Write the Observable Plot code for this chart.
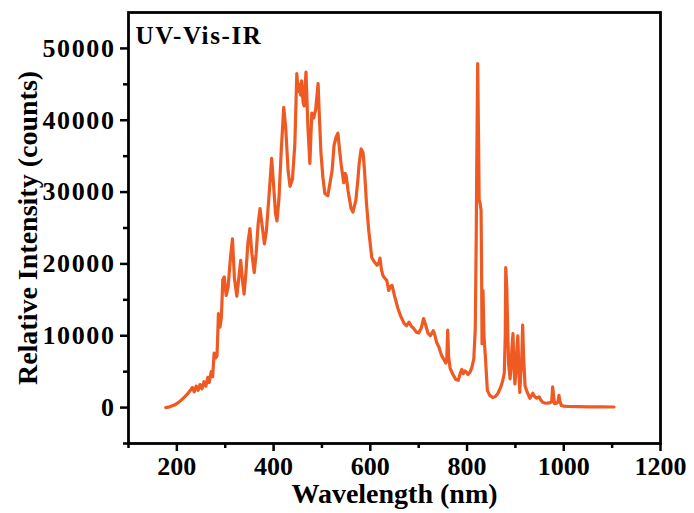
<!DOCTYPE html>
<html>
<head>
<meta charset="utf-8">
<script src="https://cdn.jsdelivr.net/npm/d3@7"></script>
<script src="https://cdn.jsdelivr.net/npm/@observablehq/plot@0.6"></script>
<style>
  html, body { margin: 0; padding: 0; background: #fff; }
  g[aria-label="y-axis tick label"] text { letter-spacing: 1.6px; }
  g.title-text text { letter-spacing: 1.6px; }
</style>
</head>
<body>
<div id="chart"></div>
<script>
const title = "UV-Vis-IR";
const xLabel = "Wavelength (nm)";
const yLabel = "Relative Intensity (counts)";
const xTicks = [200, 400, 600, 800, 1000, 1200];
const xMinorTicks = [100, 300, 500, 700, 900, 1100];
const yTicks = [0, 10000, 20000, 30000, 40000, 50000];
const yMinorTicks = [-5000, 5000, 15000, 25000, 35000, 45000];

const wavelength = [
  177,185,195,205,215,222,228,232,236,240,
  244,248,252,256,260,264,267,271,274,277,
  280,283,286,289,292,295,298,302,306,311,
  315,319,324,328,332,336,339,343,347,351,
  355,360,364,368,372,376,381,385,390,396,
  400,404,407,411,416,421,425,430,434,439,
  444,448,451,453,456,458,461,463,467,471,
  475,479,483,487,492,495,498,502,506,512,
  516,521,525,529,533,537,540,545,548,550,
  554,560,564,570,574,577,581,585,588,592,
  597,603,608,614,618,620,623,626,630,634,
  638,642,645,650,657,663,670,675,680,685,
  690,695,700,705,710,714,719,724,730,733,
  737,742,747,752,756,758,760,762,765,770,
  777,782,786,789,792,795,798,802,806,810,
  814,817,819,820,822,824,825,827,829,830,
  831,833,835,838,842,847,853,858,864,870,
  874,877,879,880,882,884,886,889,891,893,
  895,897,899,901,903,905,907,909,911,913,
  915,917,920,924,930,936,940,944,949,953,
  957,963,970,975,977,979,981,985,988,990,
  992,995,1000,1010,1030,1050,1080,1104
];
const intensity = [
  0,100,350,800,1400,1900,2400,2800,2200,3000,
  2400,3200,2600,3600,3000,4200,3500,5000,4300,7600,
  6900,7200,13100,11200,12500,17800,18200,15600,16800,21000,
  23500,18000,15500,18000,20500,17500,15800,19000,23000,24900,
  21500,18800,21500,25500,27700,25500,22800,24500,29000,34700,
  31000,27000,26000,29000,36000,41800,39000,33000,30800,31800,
  36800,46500,44000,45000,43500,45500,42500,42000,46700,39000,
  34000,41000,40300,41500,45100,40000,35400,32000,29800,29500,
  31000,33000,36500,37600,38200,35500,33700,31300,32600,32300,
  30200,27800,27200,28800,31500,34000,36000,35500,33000,28500,
  24500,20900,20300,19800,20200,20800,19200,18400,18000,17700,
  16300,16900,17000,15600,13800,12700,11700,11400,11900,11300,
  11000,10500,10400,11000,12400,11600,10400,10000,10700,10200,
  9100,8400,7300,6700,6200,6600,10800,7000,5500,4700,
  3900,3800,4800,5300,4700,5100,5000,4600,4900,5600,
  6800,11000,23700,33000,47900,36000,29000,28400,27500,20000,
  8900,16300,10000,7000,2400,1700,1400,1500,2000,2900,
  3800,4800,10000,19500,17000,11000,6000,4000,6000,8500,
  10300,5500,3300,5000,8000,10000,5500,2100,4700,6500,
  11500,7000,3000,2200,1300,2000,1500,1300,1500,1000,
  700,600,650,800,2900,1600,550,600,800,1700,
  900,300,200,150,120,100,100,80
];
const data = wavelength.map((w, i) => ({w, v: intensity[i]}));

const serif = "'Liberation Serif', 'Times New Roman', serif";

const chart = Plot.plot({
  width: 694,
  height: 513,
  marginLeft: 128,
  marginRight: 34,
  marginTop: 12,
  marginBottom: 70,
  style: {fontFamily: serif, fontWeight: "bold", fontSize: "26px", background: "#fff", color: "#000"},
  x: {domain: [100, 1200]},
  y: {domain: [-5000, 55000]},
  marks: [
    Plot.axisX(xTicks, {tickSize: 8, tickPadding: 5, strokeWidth: 2.5, fontSize: 26, fontWeight: "bold", tickFormat: d => String(d), label: null}),
    Plot.axisX(xMinorTicks, {tickSize: 5, text: null, strokeWidth: 2.5, label: null}),
    Plot.axisY(yTicks, {tickSize: 8, tickPadding: 5, strokeWidth: 2.5, fontSize: 26, fontWeight: "bold", tickFormat: d => String(d), label: null}),
    Plot.axisY(yMinorTicks, {tickSize: 5, text: null, strokeWidth: 2.5, label: null}),
    Plot.line(data, {x: "w", y: "v", stroke: "#EE5A22", strokeWidth: 3.2, strokeLinejoin: "round", curve: "linear"}),
    Plot.frame({stroke: "#000", strokeWidth: 2.8}),
    Plot.text([title], {frameAnchor: "top-left", dx: 7, dy: 23, textAnchor: "start", lineAnchor: "middle", fontSize: 25, fontWeight: "bold", fill: "#000", className: "title-text"}),
    Plot.text([xLabel], {frameAnchor: "bottom", dy: 51, textAnchor: "middle", lineAnchor: "middle", fontSize: 28, fontWeight: "bold", fill: "#000"}),
    Plot.text([yLabel], {frameAnchor: "left", dx: -100, rotate: -90, textAnchor: "middle", lineAnchor: "middle", fontSize: 28, fontWeight: "bold", fill: "#000"})
  ]
});
document.getElementById("chart").appendChild(chart);
</script>
</body>
</html>
